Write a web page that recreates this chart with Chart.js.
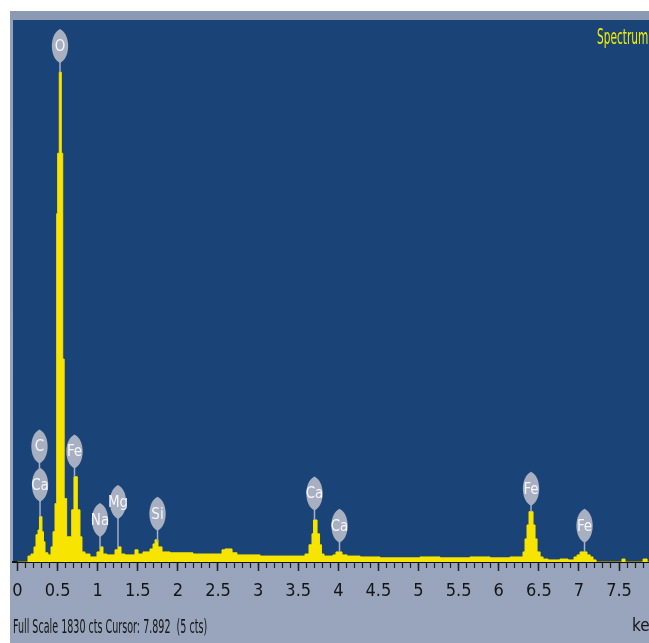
<!DOCTYPE html>
<html>
<head>
<meta charset="utf-8">
<title>EDS Spectrum 1</title>
<script src="https://cdn.jsdelivr.net/npm/chart.js@4/dist/chart.umd.min.js"></script>
<style>
  html, body { margin: 0; padding: 0; background: #fff; overflow: hidden; width: 649px; height: 643px; }
  #frame { position: absolute; left: 10px; top: 11px; width: 700px; height: 640px;
    background: linear-gradient(#8c99b3 0px, #8c99b3 9px, #93a0b8 9px, #98a5bc 100%); }
  #wrap { position: absolute; left: 0; top: 0; width: 680px; height: 643px; }
  .narrow { position: absolute; font-family: "Liberation Sans Narrow", "DejaVu Sans Condensed", sans-serif;
    white-space: pre; transform-origin: left center; }
  #spec { left: 597px; top: 25px; font-size: 21px; line-height: 24px; color: #f2ec00; transform: scaleX(0.56); }
  #footer { left: 13px; top: 615px; font-size: 19px; line-height: 22px; color: #151515; transform: scaleX(0.56); }
</style>
</head>
<body>
<div id="frame"></div>
<div id="wrap"><canvas id="spectrum" width="680" height="643"></canvas></div>
<div id="spec" class="narrow">Spectrum 1</div>
<div id="footer" class="narrow">Full Scale 1830 cts Cursor: 7.892  (5 cts)</div>
<script>
// energies (keV) where each channel group starts, and its counts
const energies = [
  0.000, 0.131, 0.168, 0.206, 0.231, 0.256, 0.274, 0.305, 0.324, 0.343,
  0.380, 0.418, 0.443, 0.468, 0.489, 0.501, 0.521, 0.546, 0.564, 0.582,
  0.613, 0.676, 0.704, 0.746, 0.779, 0.804, 0.842, 0.904, 0.991, 1.029,
  1.066, 1.116, 1.216, 1.253, 1.291, 1.340, 1.465, 1.503, 1.565, 1.652,
  1.690, 1.715, 1.752, 1.802, 1.902, 2.188, 2.550, 2.587, 2.675, 2.737,
  3.024, 3.585, 3.635, 3.672, 3.691, 3.735, 3.766, 3.790, 3.822, 3.934,
  3.971, 4.046, 4.109, 4.271, 4.520, 5.019, 5.268, 5.642, 5.891, 6.141,
  6.241, 6.303, 6.328, 6.353, 6.378, 6.428, 6.453, 6.478, 6.516, 6.553,
  6.615, 6.764, 6.864, 6.939, 6.977, 7.014, 7.101, 7.140, 7.176, 7.214,
  7.537, 7.575, 7.800, 7.850, 8.011
];
const counts = [
  0, 20, 27, 51, 92, 108, 153, 102, 68, 31,
  24, 51, 102, 197, 1176, 1380, 1654, 1380, 685, 214,
  85, 176, 288, 176, 85, 34, 27, 17, 34, 51,
  27, 24, 41, 51, 27, 24, 41, 27, 34, 44,
  61, 75, 51, 34, 31, 27, 41, 44, 31, 24,
  20, 27, 58, 95, 142, 95, 58, 27, 20, 24,
  34, 24, 20, 17, 14, 17, 14, 17, 14, 17,
  17, 34, 78, 125, 170, 125, 78, 34, 17, 10,
  7, 10, 7, 17, 24, 34, 24, 17, 7, 0,
  10, 0, 10, 0, 0
];

// element markers: name, energy, balloon height (cts), peak top (cts)
const markerNames = ["O", "C", "Ca", "Fe", "Na", "Mg", "Si", "Ca", "Ca", "Fe", "Fe"];
const markerEnergy = [0.530, 0.274, 0.281, 0.711, 1.029, 1.253, 1.746, 3.703, 4.015, 6.403, 7.070];
const markerLevel = [1742, 390, 261, 373, 142, 203, 163, 231, 122, 247, 122];
const markerPeak = [1654, 315, 153, 288, 47, 51, 68, 142, 34, 170, 34];

const xTickValues = [0, 0.5, 1, 1.5, 2, 2.5, 3, 3.5, 4, 4.5, 5, 5.5, 6, 6.5, 7, 7.5];
const xTickLabels = ["0", "0.5", "1", "1.5", "2", "2.5", "3", "3.5", "4", "4.5", "5", "5.5", "6", "6.5", "7", "7.5"];

const fullScale = 1830;
const xMin = -0.056;
const xMax = 8.011;

const narrowFont = "'Liberation Sans Narrow', 'DejaVu Sans Condensed', sans-serif";

const plotBg = {
  id: "plotBg",
  beforeDraw(chart) {
    const { ctx, chartArea } = chart;
    ctx.save();
    ctx.fillStyle = "#1a4477";
    ctx.fillRect(chartArea.left, chartArea.top, chartArea.right - chartArea.left, chartArea.bottom - chartArea.top);
    ctx.restore();
  },
};

const markers = {
  id: "markers",
  afterDatasetsDraw(chart) {
    const { ctx } = chart;
    const xs = chart.scales.x;
    const ys = chart.scales.y;
    const w = 8, h = 17;
    ctx.save();
    markerNames.forEach((name, i) => {
      const cx = xs.getPixelForValue(markerEnergy[i]);
      const cy = ys.getPixelForValue(markerLevel[i]);
      const py = ys.getPixelForValue(markerPeak[i]);
      // stem
      ctx.strokeStyle = "#a7afc1";
      ctx.lineWidth = 1.5;
      ctx.beginPath();
      ctx.moveTo(cx, cy + h - 1);
      ctx.lineTo(cx, py);
      ctx.stroke();
      // balloon
      ctx.fillStyle = "#a7afc1";
      ctx.beginPath();
      ctx.moveTo(cx, cy - h);
      ctx.bezierCurveTo(cx + w * 1.36, cy - h * 0.7, cx + w * 1.36, cy + h * 0.7, cx, cy + h);
      ctx.bezierCurveTo(cx - w * 1.36, cy + h * 0.7, cx - w * 1.36, cy - h * 0.7, cx, cy - h);
      ctx.fill();
      ctx.fillStyle = "#f4f6fb";
      ctx.font = "15px " + narrowFont;
      ctx.textAlign = "center";
      ctx.textBaseline = "middle";
      ctx.fillText(name, cx, cy + 1);
    });
    ctx.restore();
  },
};

const ctx = document.getElementById("spectrum").getContext("2d");

const chart = new Chart(ctx, {
  type: "line",
  data: {
    datasets: [
      {
        label: "Spectrum 1",
        data: energies.map((e, i) => ({ x: e, y: counts[i] })),
        stepped: true,
        fill: "origin",
        backgroundColor: "#f7e400",
        borderColor: "#f7e400",
        borderWidth: 1,
        pointRadius: 0,
        xAxisID: "x",
        yAxisID: "y",
      },
    ],
  },
  options: {
    responsive: false,
    devicePixelRatio: 1,
    animation: false,
    layout: { padding: { left: 13, right: 20, top: 20, bottom: 3 } },
    plugins: { legend: { display: false }, tooltip: { enabled: false } },
    scales: {
      x: {
        type: "linear",
        position: "bottom",
        min: xMin,
        max: xMax,
        afterBuildTicks: (axis) => {
          axis.ticks = xTickValues.map((v) => ({ value: v }));
        },
        grid: { drawOnChartArea: false, drawTicks: true, tickLength: 9, tickColor: "#1e1e1e", tickWidth: 1.5 },
        border: { display: true, color: "#111", width: 2 },
        ticks: {
          autoSkip: false,
          maxRotation: 0,
          padding: 10,
          color: "#141414",
          font: { family: narrowFont, size: 18 },
          callback: (value, index) => xTickLabels[index],
        },
        title: {
          display: true,
          text: "keV",
          align: "end",
          color: "#141414",
          font: { family: narrowFont, size: 17 },
          padding: { top: 4, bottom: 3 },
        },
      },
      x2: {
        type: "linear",
        axis: "x",
        position: { y: 0 },
        min: xMin,
        max: xMax,
        afterBuildTicks: (axis) => {
          axis.ticks = axis.ticks.filter((t) => t.value >= 0);
        },
        grid: { drawOnChartArea: false, drawTicks: true, tickLength: 6, tickColor: "#1e1e1e", tickWidth: 1.2 },
        border: { display: false },
        ticks: { display: false, stepSize: 0.1 },
      },
      y: {
        display: false,
        min: 0,
        max: fullScale,
      },
    },
  },
  plugins: [plotBg, markers],
});
</script>
</body>
</html>
